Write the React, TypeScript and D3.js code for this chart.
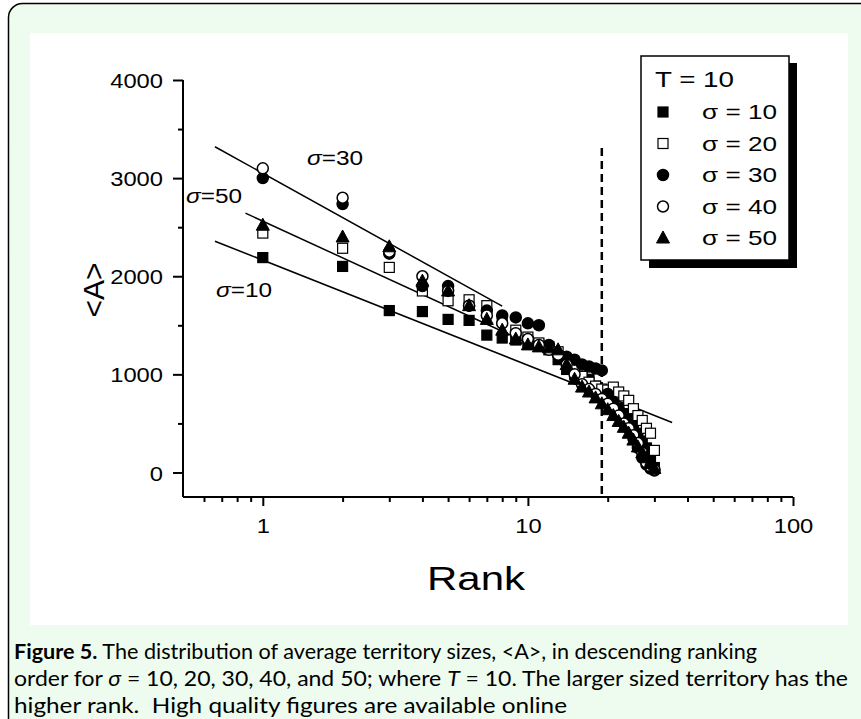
import React, { useEffect, useRef } from 'react';
import * as d3 from 'd3';

const ranks = [1, 2, 3, 4, 5, 6, 7, 8, 9, 10, 11, 12, 13, 14, 15, 16, 17, 18, 19, 20, 21, 22, 23, 24, 25, 26, 27, 28, 29, 30];
const sigma10 = [2190, 2100, 1650, 1640, 1560, 1550, 1400, 1370, 1350, 1330, 1300, 1250, 1150, 1050, 1000, 980, 950, 880, 800, 750, 700, 650, 600, 550, 480, 400, 320, 250, 150, 50];
const sigma20 = [2440, 2285, 2090, 1850, 1750, 1760, 1700, 1550, 1450, 1380, 1320, 1280, 1230, 1150, 1050, 980, 920, 880, 850, 840, 870, 820, 780, 735, 650, 580, 530, 450, 400, 225];
const sigma30 = [3000, 2735, 2230, 1900, 1900, 1700, 1650, 1600, 1580, 1520, 1500, 1300, 1200, 1180, 1150, 1100, 1080, 1060, 1040, 800, 720, 650, 550, 450, 350, 250, 150, 80, 40, 20];
const sigma40 = [3100, 2800, 2250, 2000, 1850, 1700, 1600, 1520, 1420, 1360, 1300, 1250, 1200, 1100, 1000, 900, 850, 800, 750, 700, 650, 580, 500, 450, 380, 300, 200, 100, 60, 30];
const sigma50 = [2520, 2400, 2300, 1950, 1850, 1700, 1560, 1450, 1360, 1300, 1280, 1270, 1250, 1100, 950, 870, 820, 760, 700, 640, 580, 520, 460, 400, 330, 260, 200, 150, 90, 40];

// fitted lines, [rank, <A>] end points
const fit10 = [[0.66, 2357], [35, 510]];
const fit30 = [[0.66, 3320], [8, 1695]];
const fit50 = [[0.86, 2643], [12, 1220]];

const yTicks = [0, 1000, 2000, 3000, 4000];
const xTicks = [1, 10, 100];
const cutRank = 19;

const series = [
	{ name: 'σ = 10', values: sigma10, shape: 'square', fill: '#000' },
	{ name: 'σ = 20', values: sigma20, shape: 'square', fill: '#fff' },
	{ name: 'σ = 30', values: sigma30, shape: 'circle', fill: '#000' },
	{ name: 'σ = 40', values: sigma40, shape: 'circle', fill: '#fff' },
	{ name: 'σ = 50', values: sigma50, shape: 'triangle', fill: '#000' }
];

const captionLines = [
	' The distribution of average territory sizes, <A>, in descending ranking',
	'order for σ = 10, 20, 30, 40, and 50; where T = 10. The larger sized territory has the',
	'higher rank.\u00a0 High quality figures are available online'
];

const FONT = 'Liberation Sans, Arial, sans-serif';

const App: React.FC = () => {
	const svgRef = useRef<SVGSVGElement>(null);

	useEffect(() => {
		if (svgRef.current == null) return;
		const width = 861;
		const height = 719;
		const svg = d3.select(svgRef.current);
		svg.selectAll('*').remove();

		// frame
		svg.append('rect').attr('x', 0).attr('y', 0).attr('width', width).attr('height', height).attr('fill', '#fff');
		svg.append('rect')
			.attr('x', 8.5).attr('y', 3.5).attr('width', 880).attr('height', 740)
			.attr('rx', 14)
			.attr('fill', '#edfcee')
			.attr('stroke', '#000').attr('stroke-width', 1.5);
		svg.append('rect').attr('x', 30).attr('y', 33).attr('width', 818).attr('height', 592).attr('fill', '#fff');

		const x = d3.scaleLog().domain([0.5, 100]).range([183, 793]);
		const y = d3.scaleLinear().domain([-250, 4000]).range([497, 80]);

		// axes
		const xAxis = d3.axisBottom(x)
			.tickValues([0.6, 0.7, 0.8, 0.9, 1, 2, 3, 4, 5, 6, 7, 8, 9, 10, 20, 30, 40, 50, 60, 70, 80, 90, 100])
			.tickSize(5).tickFormat(() => '');
		const gx = svg.append('g').attr('transform', 'translate(0,497)').call(xAxis);
		gx.selectAll('.tick').filter((d: any) => xTicks.includes(d)).select('line').attr('y2', 9);
		gx.selectAll('.tick').filter((d: any) => xTicks.includes(d)).append('text')
			.attr('y', 36).attr('text-anchor', 'middle').attr('fill', '#000')
			.attr('textLength', (d: any) => String(d).length * 13.2).attr('lengthAdjust', 'spacingAndGlyphs')
			.style('font-family', FONT).style('font-size', '21px')
			.text((d: any) => String(d));

		const yAxis = d3.axisLeft(y)
			.tickValues(d3.range(0, 4001, 500))
			.tickSize(5).tickFormat(() => '');
		const gy = svg.append('g').attr('transform', 'translate(183,0)').call(yAxis);
		gy.selectAll('.tick').filter((d: any) => yTicks.includes(d)).select('line').attr('x2', -10);
		gy.selectAll('.tick').filter((d: any) => yTicks.includes(d)).append('text')
			.attr('x', -20).attr('dy', '0.36em').attr('text-anchor', 'end').attr('fill', '#000')
			.attr('textLength', (d: any) => String(d).length * 13.2).attr('lengthAdjust', 'spacingAndGlyphs')
			.style('font-family', FONT).style('font-size', '21px')
			.text((d: any) => String(d));
		[gx, gy].forEach(g => {
			g.select('.domain').attr('stroke-width', 2);
			g.selectAll('.tick line').attr('stroke-width', 2);
		});
		gy.select('.domain').attr('d', 'M0,497V80');
		gx.select('.domain').attr('d', 'M183,0H793');

		// axis titles
		svg.append('text').attr('x', 476).attr('y', 590).attr('text-anchor', 'middle')
			.attr('textLength', 98).attr('lengthAdjust', 'spacingAndGlyphs')
			.style('font-family', FONT).style('font-size', '34px').text('Rank');
		svg.append('text').attr('transform', 'translate(104,290) rotate(-90)').attr('text-anchor', 'middle')
			.style('font-family', FONT).style('font-size', '30px').text('<A>');

		// cut-off line
		svg.append('line').attr('x1', x(cutRank)).attr('x2', x(cutRank)).attr('y1', 148).attr('y2', 497)
			.attr('stroke', '#000').attr('stroke-width', 2.5).attr('stroke-dasharray', '8,5');

		// fit lines
		const line = d3.line<number[]>().x(d => x(d[0])).y(d => y(d[1]));
		[fit10, fit30, fit50].forEach(f => {
			svg.append('path').attr('d', line(f)).attr('fill', 'none').attr('stroke', '#000').attr('stroke-width', 1.5);
		});

		const drawMarker = (g: any, shape: string, fill: string, cx: number, cy: number) => {
			if (shape === 'square') {
				g.append('rect').attr('x', cx - 5).attr('y', cy - 5).attr('width', 10).attr('height', 10)
					.attr('fill', fill).attr('stroke', '#000').attr('stroke-width', 1.2);
			} else if (shape === 'circle') {
				g.append('circle').attr('cx', cx).attr('cy', cy).attr('r', 5.5)
					.attr('fill', fill).attr('stroke', '#000').attr('stroke-width', 1.5);
			} else {
				g.append('path').attr('d', `M${cx},${cy - 7}L${cx + 6.5},${cy + 5}L${cx - 6.5},${cy + 5}Z`)
					.attr('fill', fill).attr('stroke', '#000').attr('stroke-width', 1);
			}
		};

		const pts = svg.append('g');
		series.forEach(s => {
			s.values.forEach((v, i) => drawMarker(pts, s.shape, s.fill, x(ranks[i]), y(v)));
		});

		// in-plot labels
		const labels = [
			{ t: '30', px: 307, py: 165 },
			{ t: '50', px: 186, py: 203 },
			{ t: '10', px: 216, py: 297 }
		];
		labels.forEach(l => {
			const tx = svg.append('text').attr('x', l.px).attr('y', l.py)
				.attr('textLength', 56).attr('lengthAdjust', 'spacingAndGlyphs')
				.style('font-family', FONT).style('font-size', '20px');
			tx.append('tspan').style('font-style', 'italic').text('σ');
			tx.append('tspan').text('=' + l.t);
		});

		// legend
		const lg = svg.append('g');
		lg.append('rect').attr('x', 649).attr('y', 63).attr('width', 148).attr('height', 205).attr('fill', '#000');
		lg.append('rect').attr('x', 641).attr('y', 56).attr('width', 148).attr('height', 204)
			.attr('fill', '#fff').attr('stroke', '#000').attr('stroke-width', 1.5);
		lg.append('text').attr('x', 655).attr('y', 87)
			.attr('textLength', 79).attr('lengthAdjust', 'spacingAndGlyphs')
			.style('font-family', FONT).style('font-size', '22px').text('T = 10');
		series.forEach((s, i) => {
			const ry = 112 + i * 31.5;
			drawMarker(lg, s.shape, s.fill, 663, ry);
			lg.append('text').attr('x', 702).attr('y', ry + 7)
				.attr('textLength', 75).attr('lengthAdjust', 'spacingAndGlyphs')
				.style('font-family', FONT).style('font-size', '21px').text(s.name);
		});

		// caption
		const cap = svg.append('g').style('font-family', 'Lato, sans-serif').style('font-size', '21px');
		const l1 = cap.append('text').attr('x', 14).attr('y', 659).attr('textLength', 743).attr('lengthAdjust', 'spacingAndGlyphs');
		l1.append('tspan').style('font-weight', 'bold').text('Figure 5.');
		l1.append('tspan').text(captionLines[0]);
		const l2 = cap.append('text').attr('x', 14).attr('y', 686).attr('textLength', 834).attr('lengthAdjust', 'spacingAndGlyphs');
		l2.append('tspan').text('order for ');
		l2.append('tspan').style('font-style', 'italic').text('σ');
		l2.append('tspan').text(' = 10, 20, 30, 40, and 50; where ');
		l2.append('tspan').style('font-style', 'italic').text('T');
		l2.append('tspan').text(' = 10. The larger sized territory has the');
		cap.append('text').attr('x', 14).attr('y', 713).attr('textLength', 553).attr('lengthAdjust', 'spacingAndGlyphs')
			.text(captionLines[2]);
	}, []);

	return <svg ref={svgRef} width={861} height={719} style={{ position: 'absolute', left: 0, top: 0 }}></svg>;
};

export default App;
